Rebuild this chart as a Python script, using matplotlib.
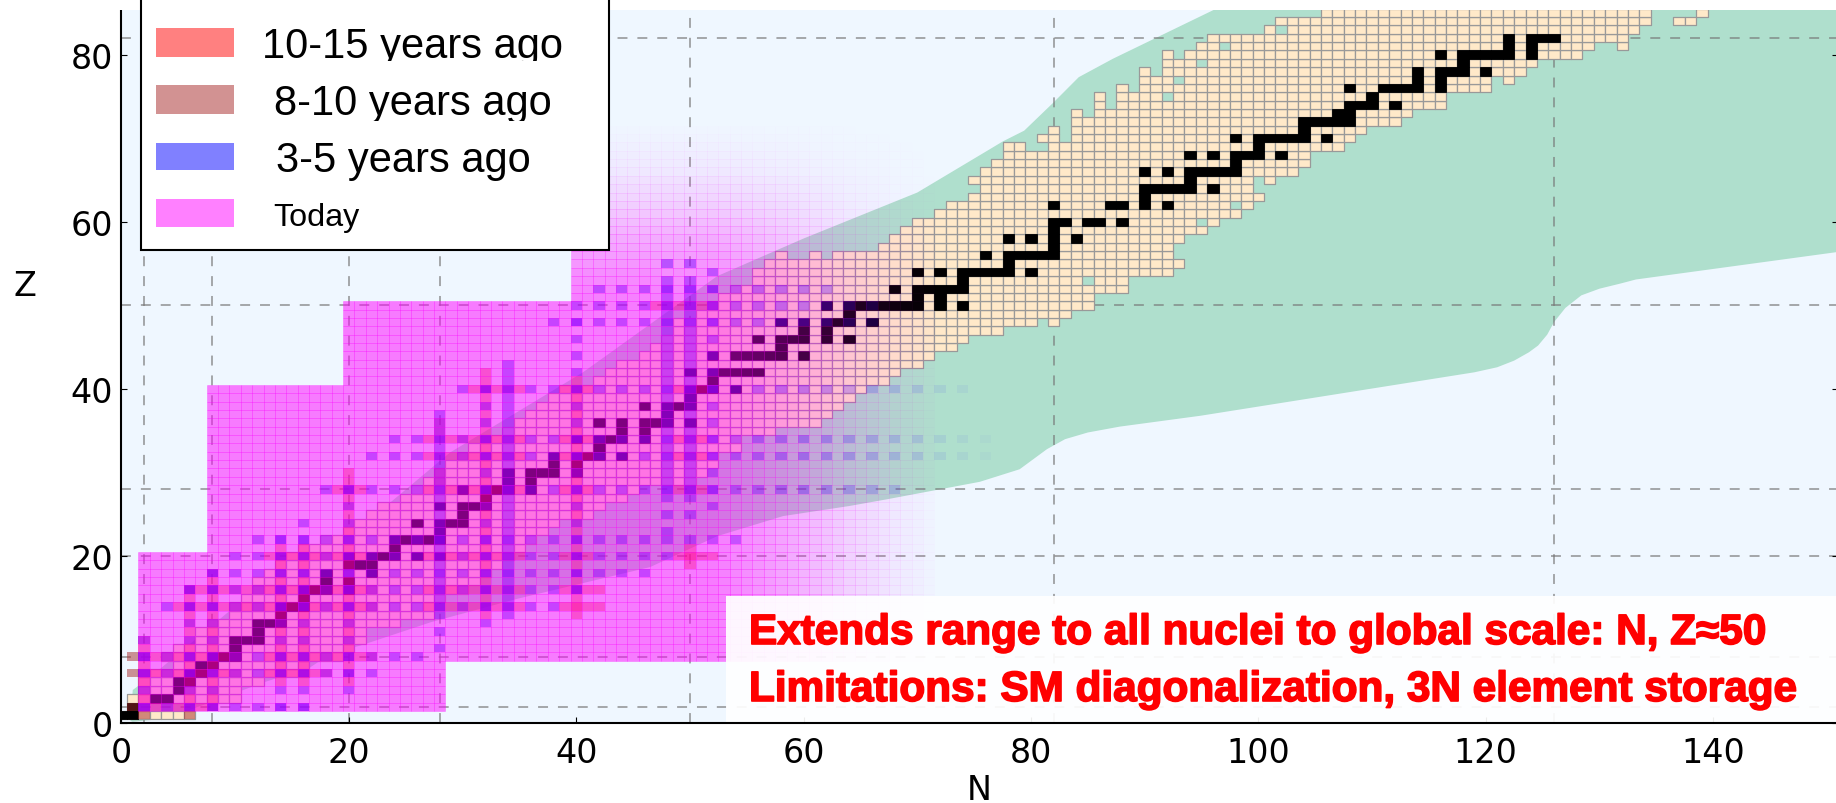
import matplotlib
matplotlib.use("Agg")
import matplotlib.pyplot as plt
import numpy as np
from matplotlib.collections import PatchCollection
from matplotlib.patches import Rectangle, Polygon
import matplotlib.patheffects as pe

W, H = 1836, 804

# ---- data ----
STABLE = {1:[0,1],2:[1],3:[3,4],4:[5],5:[5,6],6:[6,7],7:[7,8],8:[8,9,10],9:[10],10:[10,11,12],11:[12],
 12:[12,13,14],13:[14],14:[14,15,16],15:[16],16:[16,17,18,20],17:[18,20],18:[18,22],19:[20,21,22],
 20:[20,22,23,24,26,28],21:[24],22:[24,25,26,27,28],23:[28],24:[26,28,29,30],25:[30],26:[28,30,31,32],
 27:[32],28:[30,32,33,34,36],29:[34,36],30:[34,36,37,38,40],31:[38,40],32:[38,40,41,42,44],33:[42],
 34:[40,42,43,44,46],35:[44,46],36:[42,44,46,47,48,50],37:[48],38:[46,48,49,50],39:[50],
 40:[50,51,52,54],41:[52],42:[50,52,53,54,55,56],44:[52,54,55,56,57,58,60],45:[58],46:[56,58,59,60,62,64],
 47:[60,62],48:[58,60,62,63,64,66],49:[64],50:[62,64,65,66,67,68,69,70,72,74],51:[70,72],
 52:[68,70,71,72,73,74],53:[74],54:[70,72,74,75,76,77,78,80],55:[78],56:[76,78,79,80,81,82],57:[82],
 58:[78,80,82,84],59:[82],60:[82,83,85,86,88],62:[82,87,88,90,92],63:[90],64:[90,91,92,93,94,96],
 65:[94],66:[90,92,94,95,96,97,98],67:[98],68:[94,96,98,99,100,102],69:[100],
 70:[98,100,101,102,103,104,106],71:[104],72:[104,105,106,107,108],73:[107,108],74:[108,109,110,112],
 75:[110],76:[108,111,112,113,114,116],77:[114,116],78:[114,116,117,118,120],79:[118],
 80:[116,118,119,120,121,122,124],81:[122,124],82:[122,124,125,126]}

CHART_Z    = list(range(1, 86))
CHART_NMIN = [0,1,1,2,2,2,5,4,5,7,7,8,10,10,11,12,12,13,14,15,16,18,20,21,22,23,25,26,27,28,
              29,30,31,32,34,35,36,37,38,39,42,43,44,46,47,48,49,49,51,52,53,54,56,56,57,58,
              67,68,69,70,72,73,75,76,75,76,77,78,78,81,82,84,84,86,86,88,90,90,92,92,95,96,101,102,106]
CHART_NMAX = [6,1,10,10,12,16,16,19,20,21,21,24,27,27,28,30,31,32,33,34,35,36,37,38,41,42,44,45,50,51,
              52,52,54,54,57,61,62,63,64,65,67,68,70,71,73,74,77,80,83,85,85,88,88,92,93,92,
              92,93,95,96,98,99,100,99,99,103,104,104,107,108,109,112,113,116,116,120,120,123,124,128,129,132,133,134,135]
CHART_EXTRA = [(82,48),(101,65),(122,77),(132,81),(137,84),(138,84),(139,85),(61,56),(58,56)]
CHART_HOLES = [(59,56),(60,56),(62,56),(85,53),(98,62),(95,60),(97,81),(95,79),(93,77),(92,75),(102,83),(91,78),(87,75),(87,74),
               (81,48),(100,65),(121,77),(130,81),(131,81),(135,85),(136,85),(137,85),(138,85),(93,80),(89,76),(136,84),
               (80,69),(81,69),(83,70),(83,71),(85,73)]

GREEN_UP_N = [0.8, 1.0, 2.5, 10, 22.4, 28.9, 33.3, 40.6, 52.4, 60, 70, 76.4, 77.5, 79.4, 82, 84.2, 87.2, 96, 112]
GREEN_UP_Z = [0.3, 4.0, 5.5, 14, 25, 32.4, 36, 42, 53.5, 58, 63.5, 68.7, 69.6, 70.9, 74.3, 77.3, 79.5, 85.3, 95]
GREEN_LO_N = [1.0, 4, 6, 12.5, 16.6, 18.6, 21, 27.2, 34.8, 46.5, 52.4, 58.2, 64, 67.3, 75.5, 79, 81.4, 83, 85, 87.8, 94.9,
              119, 121, 122.5, 123.8, 124.6, 125.4, 126, 127, 128.4, 130, 131.8, 133.2, 151]
GREEN_LO_Z = [0.2, 0.6, 1.6, 4.9, 6.7, 8.5, 9.3, 12.1, 14.9, 18.7, 22.4, 24.8, 26, 26.8, 28.9, 30.4, 32.8, 34.0, 34.8, 35.5, 36.8,
              42, 42.6, 43.4, 44.4, 45.2, 46.5, 48, 49.7, 51.2, 52, 52.6, 53.1, 56.4]

GRID_N = [2, 8, 20, 28, 50, 82, 126]
GRID_Z = [2, 8, 20, 28, 50, 82]

# magenta region: rows Z from, to, first N, last N
TODAY_ZMIN = [2, 8, 21, 41, 51]
TODAY_ZMAX = [7, 20, 40, 50, 72]
TODAY_NMIN = [2, 2, 8, 20, 40]
TODAY_NMAX = [28, 72, 72, 72, 72]

FADE_N = [52, 56, 60, 64, 68, 72]
FADE_N_A = [1, .8, .55, .3, .12, 0]
FADE_Z = [50, 54, 58, 62, 66, 70, 72]
FADE_Z_A = [1, .85, .6, .32, .12, .03, 0]
BLUE_FADE_N = [50, 60, 66, 72, 78]
BLUE_FADE_A = [1, .75, .4, .15, 0]

BROWN = [(1,2),(2,1),(6,1),(1,6),(1,8)]
# (Z, Nmin, Nmax): every N
RED_ROWS = [(2,2,8),(6,2,10),(6,13,18),(8,2,10),(8,13,22),(14,5,22),(14,27,35),(14,39,42),(16,6,22),(16,27,35),(16,39,42),
            (20,13,21),(20,27,35),(20,39,41),(20,49,52),(28,19,21),(28,27,35),(28,39,41),(28,49,51),(32,27,35),(32,39,41),(32,49,51),
            (34,27,35),(34,39,41),(34,49,51),(40,31,35),(40,39,41),(40,49,51),(50,47,52)]
# (N, Zmin, Zmax): every Z
RED_COLS = [(2,2,10),(6,2,16),(8,2,18),(14,5,21),(16,5,21),(20,5,30),(28,29,30),(28,35,36),(32,13,42),(40,13,41),(50,19,21)]
# (Z, Nmin, Nmax): even N
BLUE_ROWS = [(2,2,16),(6,2,22),(8,2,26),(14,4,38),(16,6,40),(18,8,46),(20,10,48),(22,12,54),(28,18,68),(32,22,76),(34,24,76),
             (40,30,74),(48,38,66),(50,40,66),(52,42,62)]
# (N, Zmin, Zmax): even Z
BLUE_COLS = [(2,2,10),(6,2,16),(8,2,18),(14,2,22),(16,2,24),(20,4,28),(32,12,40),(40,16,48),(52,26,54)]
# (N, Zmin, Zmax): every Z
BLUE_SOLID = [(28,9,9),(28,11,11),(28,13,37),(34,13,43),(48,23,23),(48,25,25),(48,27,53),(48,55,55),(50,25,25),(50,27,53),(50,55,55)]

LEGEND_LABELS = ["10-15 years ago", "8-10 years ago", "3-5 years ago", "Today"]
LEGEND_COLORS = ["#ff8080", "#d29292", "#8080ff", "#ff80ff"]
LINE1 = "Extends range to all nuclei to global scale: N, Z\u224850"
LINE2 = "Limitations: SM diagonalization, 3N element storage"

# ---- figure ----
X0, PXN = 121.4, 11.37
Y0, PXZ = 724.4, 8.36
XMAX, YTOP = 151.0, (Y0 - 11) / PXZ
fig = plt.figure(figsize=(W / 100, H / 100), dpi=100)
ax = fig.add_axes([X0 / W, 1 - Y0 / H, XMAX * PXN / W, (Y0 - 11) / H])
ax.set_xlim(0, XMAX)
ax.set_ylim(0, YTOP)
ax.set_facecolor("#eff7ff")

ax.add_patch(Polygon(list(zip(GREEN_UP_N, GREEN_UP_Z)) + [(151, 95)] + list(zip(GREEN_LO_N, GREEN_LO_Z))[::-1],
                     closed=True, fc="#afdfcd", ec="none", zorder=1))
for n in GRID_N:
    ax.axvline(n, color="#777777", alpha=.8, lw=1.1, dashes=(6.5, 6.5), zorder=1.5)
for z in GRID_Z:
    ax.axhline(z, color="#777777", alpha=.8, lw=1.1, dashes=(6.5, 6.5), zorder=1.5)

def cells(items, **kw):
    rects = [Rectangle((n - .5, z - .5), 1, 1) for n, z in items]
    pc = PatchCollection(rects, **kw)
    ax.add_collection(pc)
    return pc

chart = []
for z, a, b in zip(CHART_Z, CHART_NMIN, CHART_NMAX):
    chart += [(n, z) for n in range(a, b + 1)]
chart = (set(chart) | set(CHART_EXTRA)) - set(CHART_HOLES)
cells(sorted(chart), facecolor="#ffe9c9", edgecolor="#999999", linewidth=.9, zorder=2)
stable = [(n, z) for z, ns in STABLE.items() for n in ns]
cells(stable, facecolor="black", edgecolor="black", linewidth=.6, zorder=3)

def fade_m(n, z):
    return np.interp(n, FADE_N, FADE_N_A) * np.interp(z, FADE_Z, FADE_Z_A)
def fade_b(n, z):
    return np.interp(n, BLUE_FADE_N, BLUE_FADE_A) * np.interp(z, [56, 62], [1, 0])

cells(BROWN, facecolor=(.647, .165, .165, .5), edgecolor="none", zorder=4)
red = [(n, z) for z, a, b in RED_ROWS for n in range(a, b + 1)] + [(n, z) for n, a, b in RED_COLS for z in range(a, b + 1)]
cells(red, facecolor=[(1, 0, 0, .35 * fade_b(n, z)) for n, z in red], edgecolor="none", zorder=4.1)
blue = [(n, z) for z, a, b in BLUE_ROWS for n in range(a, b + 1, 2)]
blue += [(n, z) for n, a, b in BLUE_COLS for z in range(a, b + 1, 2)]
blue += [(n, z) for n, a, b in BLUE_SOLID for z in range(a, b + 1)]
cells(blue, facecolor=[(.1, 0, 1, .45 * fade_b(n, z)) for n, z in blue], edgecolor="none", zorder=4.2)

today = []
for za, zb, na, nb in zip(TODAY_ZMIN, TODAY_ZMAX, TODAY_NMIN, TODAY_NMAX):
    today += [(n, z) for z in range(za, zb + 1) for n in range(na, nb + 1)]
today = [c for c in today if fade_m(*c) > 0]
cells(today, facecolor=[(1, 0, 1, .5 * fade_m(n, z)) for n, z in today],
      edgecolor=[(1, 0, 1, .38 * fade_m(n, z)) for n, z in today], linewidth=.42, zorder=5)

# axes dressing
for s in ("left", "bottom", "right"):
    ax.spines[s].set_linewidth(1.5)
ax.spines["top"].set_visible(False)
ax.set_xticks(range(0, 141, 20))
ax.set_yticks(range(0, 81, 20))
ax.tick_params(direction="in", length=4.5, width=.8, labelsize=24, right=True, top=False, pad=6)
ax.tick_params(axis="x", pad=9)
for sp in ax.spines.values():
    sp.set_zorder(20)

# annotation box
ax.add_patch(Rectangle((726, H - 724), 1200, 127, transform=None, fc="white", alpha=.93, ec="none", zorder=6))
stroke = [pe.withStroke(linewidth=1.2, foreground="red")]
for txt, yb in ((LINE1, 645), (LINE2, 702)):
    fig.text(749 / W, 1 - yb / H, txt, color="red", fontsize=30.45, fontweight="bold", family="Liberation Sans",
             va="baseline", ha="left", path_effects=stroke, zorder=30)

# legend
fig.add_artist(Rectangle((141, H - 251), 468, 260, transform=None, fc="white", ec="black", lw=1.5, zorder=25))
SW_Y = [(29.3, 57.7), (86.3, 114.7), (143.7, 171.3), (200, 228)]
TX = [261.8, 273.6, 276, 273.6]
BASE = [58.3, 114.5, 172, 226]
FS = [30, 30, 30, 23.3]
CLIP = [61.5, 122, 400, 400]
for lab, col, (a, b), tx, yb, fs, cl in zip(LEGEND_LABELS, LEGEND_COLORS, SW_Y, TX, BASE, FS, CLIP):
    fig.add_artist(Rectangle((155.8, H - b), 78.2, b - a, transform=None, fc=col, ec="none", zorder=26))
    t = fig.text(tx / W, 1 - yb / H, lab, fontsize=fs, family="Liberation Sans", va="baseline", ha="left", zorder=27)
    t.set_clip_box(matplotlib.transforms.Bbox([[0, H - cl], [W, H]]))
    t.set_clip_on(True)

# white strip at the top, axis labels
fig.add_artist(Rectangle((0, H - 11), W, 11, transform=None, fc="white", ec="none", zorder=24))
fig.text(25 / W, 1 - 286 / H, "Z", fontsize=24, ha="center", va="center")
fig.text(979 / W, 1 - 791 / H, "N", fontsize=24, ha="center", va="center")

fig.savefig("out.png", dpi=100)
